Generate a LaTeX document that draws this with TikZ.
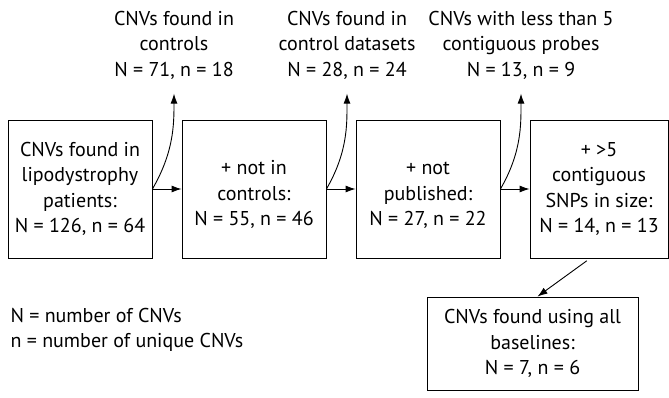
\documentclass[tikz,border=0pt]{standalone}
\usepackage{fontspec}
\setmainfont{PT Sans}
\usetikzlibrary{arrows.meta,positioning}

\begin{document}
\begin{tikzpicture}[
x=1pt,
y=1pt,
stage/.style={
  draw,
  line width=0.9pt,
  minimum width=144pt,
  minimum height=138pt,
  align=center,
  inner sep=0pt
  },
removed/.style={
  align=center
  },
flow/.style={
  ->,
  line width=0.9pt
  },
>={Latex[length=10pt,width=7pt]},
font=\fontsize{20}{25.5}\selectfont
]
\useasboundingbox (0,0) rectangle (669,397);

\node[stage] (patients) at (80,208)
  {CNVs found in\\lipodystrophy\\patients:\\N = 126, n = 64};
\node[stage] (notctrl) at (254,208)
  {\mbox{}\\+ not in\\controls:\\N = 55, n = 46};
\node[stage] (notpub) at (428,208)
  {\mbox{}\\+ not\\published:\\N = 27, n = 22};
\node[stage, minimum width=138pt] (contig) at (599,208)
  {+ >5\\contiguous\\SNPs in size:\\N = 14, n = 13};
\node[stage, minimum width=211pt, minimum height=93pt] (final) at (532.5,53.5)
  {CNVs found using all\\baselines:\\N = 7, n = 6};

\node[removed] (inctrl) at (174,352)
  {CNVs found in\\controls\\N = 71, n = 18};
\node[removed] (indata) at (347,352)
  {CNVs found in\\control datasets\\N = 28, n = 24};
\node[removed] (fewprobes) at (521,352)
  {CNVs with less than 5\\contiguous probes\\N = 13, n = 9};

\node[align=left, anchor=west] (legend) at (7,67)
  {N = number of CNVs\\n = number of unique CNVs};

\draw[flow] (patients.east) -- (notctrl.west);
\draw[flow] (notctrl.east) -- (notpub.west);
\draw[flow] (notpub.east) -- (contig.west);

\draw[flow, shorten >=11pt] (patients.east) to[out=60,in=-90] (inctrl.south);
\draw[flow, shorten >=11pt] (notctrl.east) to[out=60,in=-90] (indata.south);
\draw[flow, shorten >=11pt] (notpub.east) to[out=60,in=-90] (fewprobes.south);

\draw[flow, shorten <=4pt] ([xshift=-9pt]contig.south) -- ([xshift=5pt]final.north);
\end{tikzpicture}
\end{document}
